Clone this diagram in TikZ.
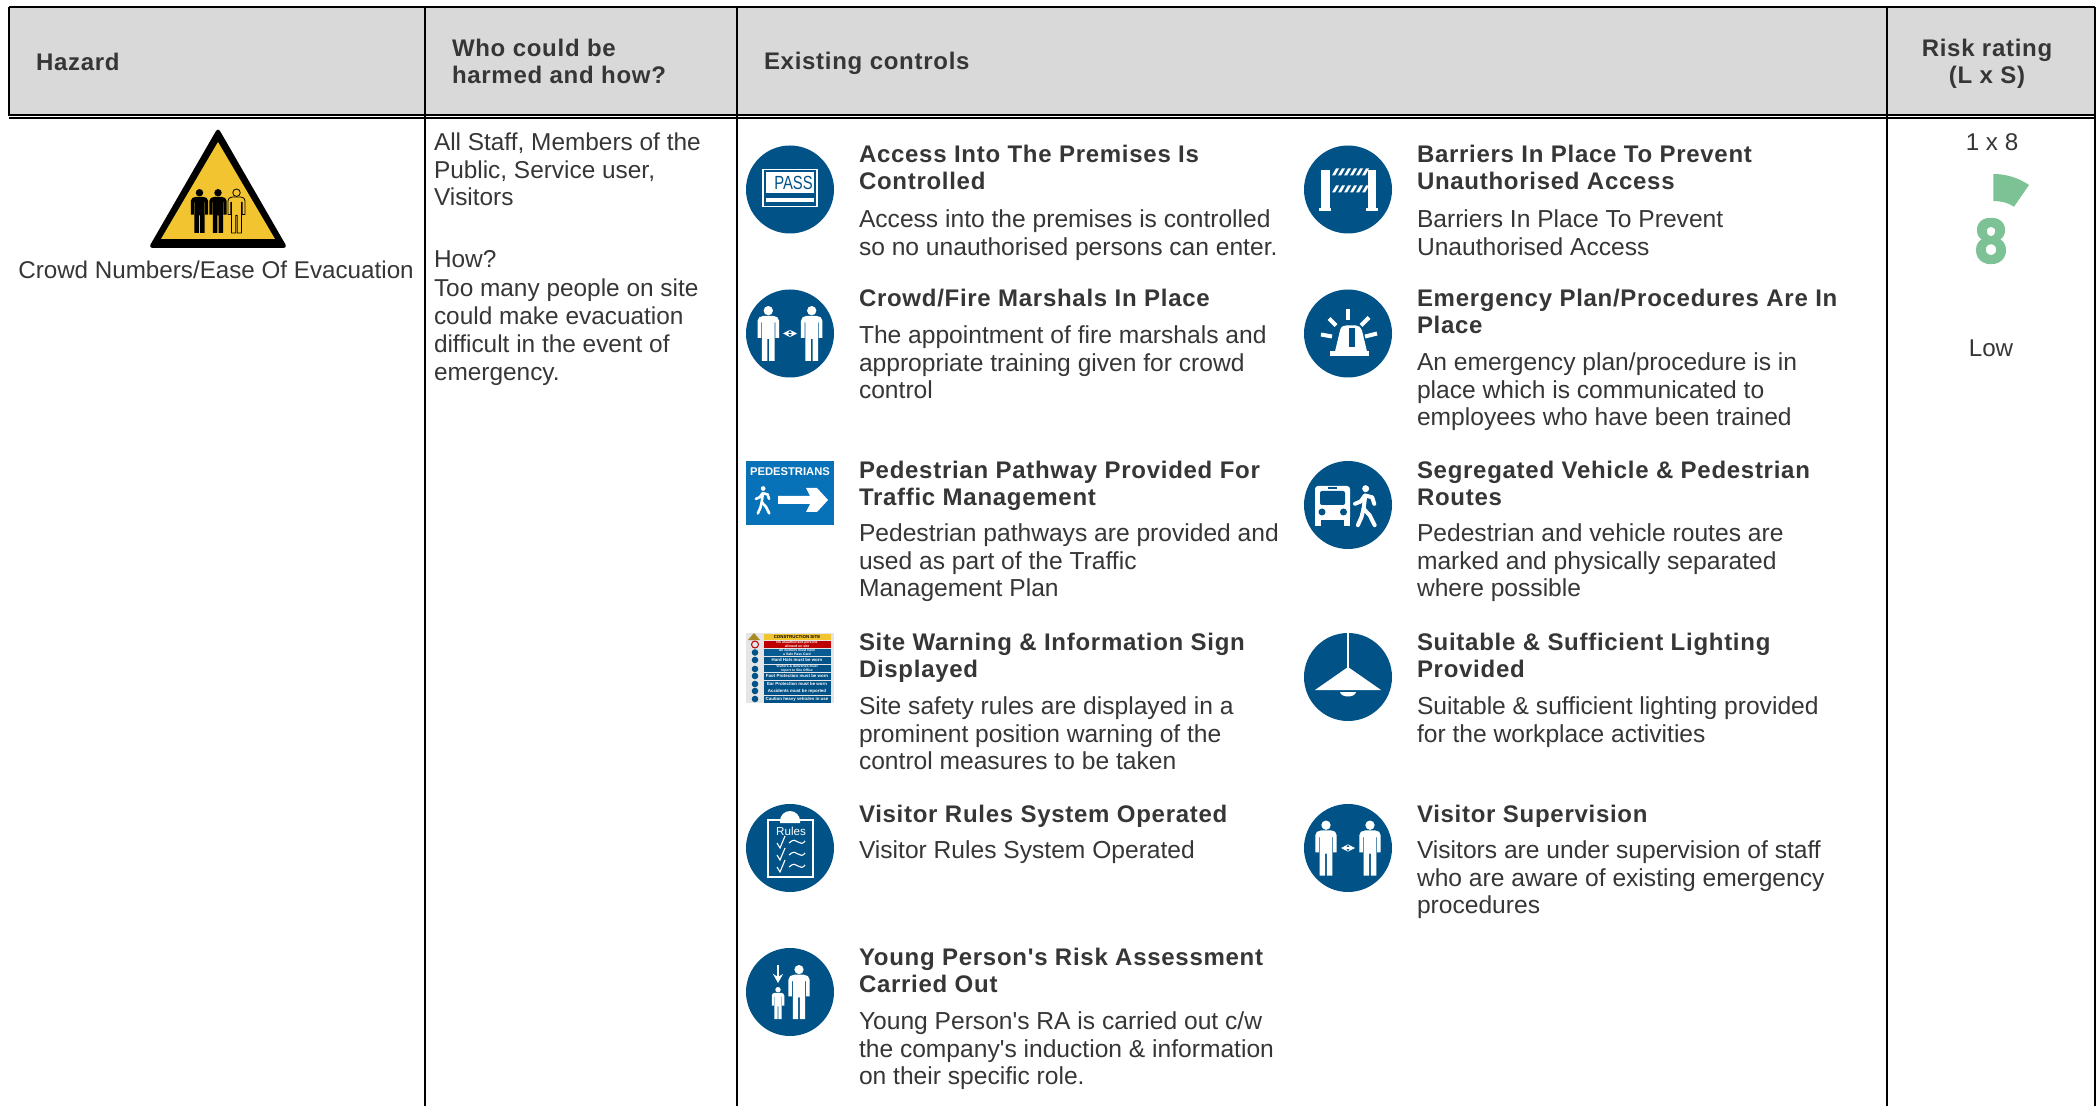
\documentclass[tikz,border=0pt]{standalone}
\usepackage{fontspec}
\newfontfamily\armain{Liberation Sans}
\newfontfamily\gaugefont{Poppins}
\usetikzlibrary{arrows.meta}
\definecolor{ink}{HTML}{363636}
\definecolor{iconblue}{RGB}{0,82,135}
\definecolor{signblue}{RGB}{8,114,184}
\definecolor{headgrey}{HTML}{D9D9D9}
\definecolor{sage}{HTML}{7DC295}
\definecolor{warnyellow}{HTML}{F2C530}
\tikzset{
  x=0.5pt,y=-0.5pt,
  grid/.style={line width=1.3pt,black},
  rulethin/.style={line width=1pt,black},
  rulethick/.style={line width=1.2pt,black},
  plaintxt/.style={inner sep=0pt,outer sep=0pt,anchor=north west,align=left,text=ink,yshift=9.73pt,
     font=\armain\fontsize{12.1}{13.9}\selectfont,execute at begin node=\strut},
  bodytxt/.style={plaintxt,font=\armain\fontsize{12.3}{13.9}\selectfont},
  whotxt/.style={plaintxt,font=\armain\fontsize{12.2}{13.9}\selectfont},
  titletxt/.style={inner sep=0pt,outer sep=0pt,anchor=north west,align=left,text=ink,yshift=9.625pt,
     font=\armain\fontsize{12}{13.75}\selectfont\bfseries\addfontfeature{LetterSpace=3},execute at begin node=\strut},
  headtxt/.style={titletxt},
  headctr/.style={titletxt,anchor=north,align=center},
  ctrtxt/.style={plaintxt,anchor=north,align=center},
  disc/.style={fill=iconblue,draw=none},
  person/.pic={
    \path[pic actions] (0,0.085) circle (0.085);
    \path[pic actions,line join=round] (-0.09,0.18) -- (0.09,0.18) -- (0.165,0.205) -- (0.195,0.27) -- (0.195,0.58)
      -- (0.13,0.58) -- (0.13,0.30) -- (0.115,0.30) -- (0.115,1) -- (0.015,1) -- (0.015,0.6) -- (-0.015,0.6)
      -- (-0.015,1) -- (-0.115,1) -- (-0.115,0.30) -- (-0.13,0.30) -- (-0.13,0.58) -- (-0.195,0.58)
      -- (-0.195,0.27) -- (-0.165,0.205) -- cycle;
  },
  walker/.pic={
    \fill[white] (0.04,0.09) circle (0.085);
    \draw[white,line cap=round,line join=round,pic actions] (0.03,0.26) -- (-0.01,0.58);
    \draw[white,line cap=round,line join=round,pic actions] (-0.01,0.58) -- (0.14,0.74) -- (0.26,0.98);
    \draw[white,line cap=round,line join=round,pic actions] (-0.01,0.58) -- (-0.06,0.78) -- (-0.15,0.98);
    \draw[white,line cap=round,line join=round,pic actions] (0.04,0.26) -- (0.2,0.3) -- (0.25,0.46);
    \draw[white,line cap=round,line join=round,pic actions] (0.02,0.26) -- (-0.08,0.4) -- (-0.22,0.46);
  },
}
\begin{document}
\begin{tikzpicture}
\useasboundingbox (0,0) rectangle (2098,1106);
\fill[white] (0,0) rectangle (2098,1106);
% header band
\fill[headgrey] (9,7) rectangle (2095,115);
% grid
\draw[grid] (9,7) -- (2095,7);
\draw[grid] (9,7) -- (9,116);
\draw[rulethin] (9,115) -- (2095,115);
\draw[rulethick] (9,118.3) -- (2095,118.3);
\draw[grid] (425,7) -- (425,1106);
\draw[grid] (737,7) -- (737,1106);
\draw[grid] (1887,7) -- (1887,1106);
\draw[grid] (2095,7) -- (2095,1106);
% header text
\node[headtxt] (hHazard) at (36,71) {Hazard};
\node[headtxt] (hWho) at (452,58) {Who could be\\harmed and how?};
\node[headtxt] (hControls) at (764,70) {Existing controls};
\node[headctr] (hRisk) at (1987,58) {Risk rating\\(L x S)};
% hazard column
\fill[black,rounded corners=2pt] (218,127.5) -- (287.5,248) -- (148.5,248) -- cycle;
\fill[warnyellow] (218,142) -- (275,239) -- (161,239) -- cycle;
\pic[fill=black] at (199.5,189) [scale=44] {person};
\pic[fill=black] at (218,189) [scale=44] {person};
\pic[draw=black,line width=0.4pt] at (236.5,189) [scale=44] {person};
\node[ctrtxt] (hazardName) at (216,278.5) {Crowd Numbers/Ease Of Evacuation};
\node[whotxt] (who) at (434,152) {All Staff, Members of the\\Public, Service user,\\Visitors\\[17pt]How?\\[0.7pt]Too many people on site\\could make evacuation\\difficult in the event of\\emergency.};
% left controls
\node[titletxt] (t1) at (859,164) {Access Into The Premises Is\\Controlled};
\node[bodytxt] (b1) at (859,229) {Access into the premises is controlled\\so no unauthorised persons can enter.};
\node[titletxt] (t2) at (859,307) {Crowd/Fire Marshals In Place};
\node[bodytxt] (b2) at (859,345) {The appointment of fire marshals and\\appropriate training given for crowd\\control};
\node[titletxt] (t3) at (859,480) {Pedestrian Pathway Provided For\\Traffic Management};
\node[bodytxt] (b3) at (859,543) {Pedestrian pathways are provided and\\used as part of the Traffic\\Management Plan};
\node[titletxt] (t4) at (859,652) {Site Warning \& Information Sign\\Displayed};
\node[bodytxt] (b4) at (859,716) {Site safety rules are displayed in a\\prominent position warning of the\\control measures to be taken};
\node[titletxt] (t5) at (859,822) {Visitor Rules System Operated};
\node[bodytxt] (b5) at (859,858) {Visitor Rules System Operated};
\node[titletxt] (t6) at (859,967) {Young Person's Risk Assessment\\Carried Out};
\node[bodytxt] (b6) at (859,1031) {Young Person's RA is carried out c/w\\the company's induction \& information\\on their specific role.};
% right controls
\node[titletxt] (t7) at (1417,164) {Barriers In Place To Prevent\\Unauthorised Access};
\node[bodytxt] (b7) at (1417,229) {Barriers In Place To Prevent\\Unauthorised Access};
\node[titletxt] (t8) at (1417,308) {Emergency Plan/Procedures Are In\\Place};
\node[bodytxt] (b8) at (1417,372) {An emergency plan/procedure is in\\place which is communicated to\\employees who have been trained};
\node[titletxt] (t9) at (1417,480) {Segregated Vehicle \& Pedestrian\\Routes};
\node[bodytxt] (b9) at (1417,543) {Pedestrian and vehicle routes are\\marked and physically separated\\where possible};
\node[titletxt] (t10) at (1417,652) {Suitable \& Sufficient Lighting\\Provided};
\node[bodytxt] (b10) at (1417,716) {Suitable \& sufficient lighting provided\\for the workplace activities};
\node[titletxt] (t11) at (1417,822) {Visitor Supervision};
\node[bodytxt] (b11) at (1417,860) {Visitors are under supervision of staff\\who are aware of existing emergency\\procedures};
% risk
\node[ctrtxt] (score) at (1992,151) {1 x 8};
\fill[sage] (1993.3,174) .. controls (2006,174) and (2018.5,177.8) .. (2029,185) -- (2014,206.7)
  .. controls (2008.1,202.6) and (2000.5,201) .. (1993.3,201) -- cycle;
\node[inner sep=0pt,text=sage,transform shape,xscale=0.9,font=\gaugefont\bfseries\addfontfeature{FakeBold=1.5}\fontsize{30}{30}\selectfont] (gauge) at (1991,241) {8};
\node[ctrtxt] (level) at (1991,357) {Low};
% icon: pass
\begin{scope}[shift={(790,189.5)}]
  \fill[disc] (0,0) circle (44);
  \draw[white,line width=0.7pt] (-27,-20) rectangle (27,17);
  \fill[white] (-24,-17) rectangle (24,4);
  \fill[white] (-24,8.5) rectangle (24,12.5);
  \node[inner sep=0pt,text=iconblue,transform shape,xscale=0.78,font=\armain\fontsize{9.5}{10}\selectfont] (passT) at (3.5,-6.5) {PASS};
\end{scope}
% icon: marshals
\begin{scope}[shift={(790,333.5)}]
  \fill[disc] (0,0) circle (44);
  \pic[fill=white] at (-21.7,-27.5) [scale=55] {person};
  \pic[fill=white] at (21.7,-27.5) [scale=55] {person};
  \draw[white,line width=0.7pt,{Stealth[length=3.5pt,width=3.5pt]}-{Stealth[length=3.5pt,width=3.5pt]}] (-7,0) -- (7,0);
\end{scope}
% icon: pedestrians sign
\begin{scope}[shift={(746,461)}]
  \fill[signblue] (0,0) rectangle (88,64);
  \node[inner sep=0pt,text=white,font=\armain\fontsize{5.6}{6}\selectfont\bfseries] (pedT) at (44,11) {PEDESTRIANS};
  \pic[line width=1.3pt] at (16,25) [scale=28] {walker};
  \fill[white] (32,35) -- (64,35) -- (60,27) -- (71,27) -- (82,39) -- (71,51) -- (60,51) -- (64,43) -- (32,43) -- cycle;
\end{scope}
% icon: construction sign
\begin{scope}[shift={(746,633)}]
  \fill[black!10] (0,0) rectangle (88,70);
  \fill[warnyellow] (17.5,0.5) rectangle (85,7);
  \fill[warnyellow!70!black] (2,7) -- (8,0) -- (14,7) -- cycle;
  \fill[red!75!black] (17.5,8) rectangle (85,15);
  \fill[signblue!80!black] (17.5,16) rectangle (85,23);
  \foreach \yy in {24,32,40,48,55,63} {\fill[iconblue] (17.5,\yy) rectangle (85,\yy+6.5);}
  \draw[red!75!black,line width=0.5pt] (9,11.5) circle (3.5);
  \foreach \yy in {19.5,27,36,43,51,58,66} {\fill[iconblue] (9,\yy) circle (3.3);}
  \tikzset{tinyt/.style={inner sep=0pt,text=white,font=\armain\fontsize{2.2}{2.4}\selectfont\bfseries}}
  \node[tinyt,text=black] (cs0) at (51,3.7) {CONSTRUCTION SITE};
  \node[tinyt,align=center,font=\armain\fontsize{1.7}{1.9}\selectfont\bfseries] (cs1) at (51,11.5) {No unauthorised persons\\allowed on site};
  \node[tinyt,align=center,font=\armain\fontsize{1.7}{1.9}\selectfont\bfseries] (cs2) at (51,19.5) {All workers must have\\a Safe Pass Card};
  \node[tinyt] (cs3) at (51,27) {Hard Hats must be worn};
  \node[tinyt,align=center,font=\armain\fontsize{1.7}{1.9}\selectfont\bfseries] (cs4) at (51,35.5) {Visitors \& deliveries must\\report to Site Office};
  \node[tinyt] (cs5) at (51,43.3) {Foot Protection must be worn};
  \node[tinyt] (cs6) at (51,51.3) {Ear Protection must be worn};
  \node[tinyt] (cs7) at (51,58.3) {Accidents must be reported};
  \node[tinyt] (cs8) at (51,66.3) {Caution heavy vehicles in use};
\end{scope}
% icon: rules
\begin{scope}[shift={(790,848)}]
  \fill[disc] (0,0) circle (44);
  \draw[white,line width=0.8pt] (-22,-28) rectangle (23,29);
  \fill[white] (-10,-27) arc[start angle=180,end angle=0,radius=5pt] -- (10,-25) -- (-10,-25) -- cycle;
  \node[inner sep=0pt,text=white,font=\armain\fontsize{5.8}{6}\selectfont] (rulesT) at (1,-17) {Rules};
  \foreach \yy in {-5,7,19} {
    \draw[white,line width=0.55pt] (-13,\yy) -- (-10,\yy+5) -- (-5,\yy-7);
    \draw[white,line width=0.55pt] (-1,\yy) .. controls (3,\yy-4) and (6,\yy-3) .. (8,\yy-1) .. controls (10,\yy+1) and (13,\yy+1) .. (15,\yy-2);
  }
\end{scope}
% icon: young person
\begin{scope}[shift={(790,992)}]
  \fill[disc] (0,0) circle (44);
  \pic[fill=white] at (9,-27) [scale=54] {person};
  \pic[fill=white] at (-12,-5) [scale=32] {person};
  \draw[white,line width=0.7pt,-{Stealth[length=4.5pt,width=5pt]}] (-12,-27) -- (-12,-9);
\end{scope}
% icon: barriers
\begin{scope}[shift={(1348,189.5)}]
  \fill[disc] (0,0) circle (44);
  \fill[white] (-27,-19) rectangle (-18,19);
  \fill[white] (-29,19) rectangle (-17,22);
  \fill[white] (20,-19) rectangle (28,19);
  \fill[white] (18,19) rectangle (30,22);
  \foreach \yy in {-14,3} {
    \foreach \xx in {-16,-10,-4,2,8,14} {
      \fill[white] (\xx,\yy) -- (\xx+3,\yy) -- (\xx+7,\yy-7) -- (\xx+4,\yy-7) -- cycle;
    }
  }
\end{scope}
% icon: beacon
\begin{scope}[shift={(1348,333.5)}]
  \fill[disc] (0,0) circle (44);
  \fill[white] (-18,18) rectangle (21,23);
  \fill[white] (-13,18) -- (-8,-3) .. controls (-7,-7) and (-5,-8) .. (-2,-8) -- (8,-8) .. controls (11,-8) and (13,-6) .. (14,-3) -- (19,18) -- cycle;
  \fill[disc] (1,-5) rectangle (7,14);
  \draw[white,line width=2pt] (0,-24) -- (0,-13);
  \draw[white,line width=2pt] (-19,-15) -- (-12,-8);
  \draw[white,line width=2pt] (21,-16) -- (13,-8);
  \draw[white,line width=2pt] (-27,1) -- (-16,3);
  \draw[white,line width=2pt] (29,0) -- (17,3);
\end{scope}
% icon: bus and walker
\begin{scope}[shift={(1348,505)}]
  \fill[disc] (0,0) circle (44);
  \fill[white,rounded corners=1.5pt] (-33,-19) rectangle (2,15);
  \fill[white] (-33,10) rectangle (-27,21);
  \fill[white] (-4,10) rectangle (2,21);
  \fill[disc,rounded corners=1pt] (-28,-14) rectangle (-3,0);
  \fill[disc] (-20,-17.5) rectangle (-11,-15.5);
  \fill[disc] (-26,7) circle (3.5);
  \fill[disc] (-4.5,7) circle (3.5);
  \pic[line width=2pt] at (16,-20) [scale=41] {walker};
\end{scope}
% icon: lamp
\begin{scope}[shift={(1348,677)}]
  \fill[disc] (0,0) circle (44);
  \fill[white] (-1.3,-44) rectangle (1.3,-8);
  \fill[white] (0,-10) -- (33,13) -- (-33,13) -- cycle;
  \fill[white] (-8,15) .. controls (-7,21) and (7,21) .. (8,15) -- cycle;
\end{scope}
% icon: visitor supervision
\begin{scope}[shift={(1348,848)}]
  \fill[disc] (0,0) circle (44);
  \pic[fill=white] at (-22,-27.5) [scale=55] {person};
  \pic[fill=white] at (22,-27.5) [scale=55] {person};
  \draw[white,line width=0.7pt,{Stealth[length=3.5pt,width=3.5pt]}-{Stealth[length=3.5pt,width=3.5pt]}] (-7,0) -- (7,0);
\end{scope}
\end{tikzpicture}
\end{document}
